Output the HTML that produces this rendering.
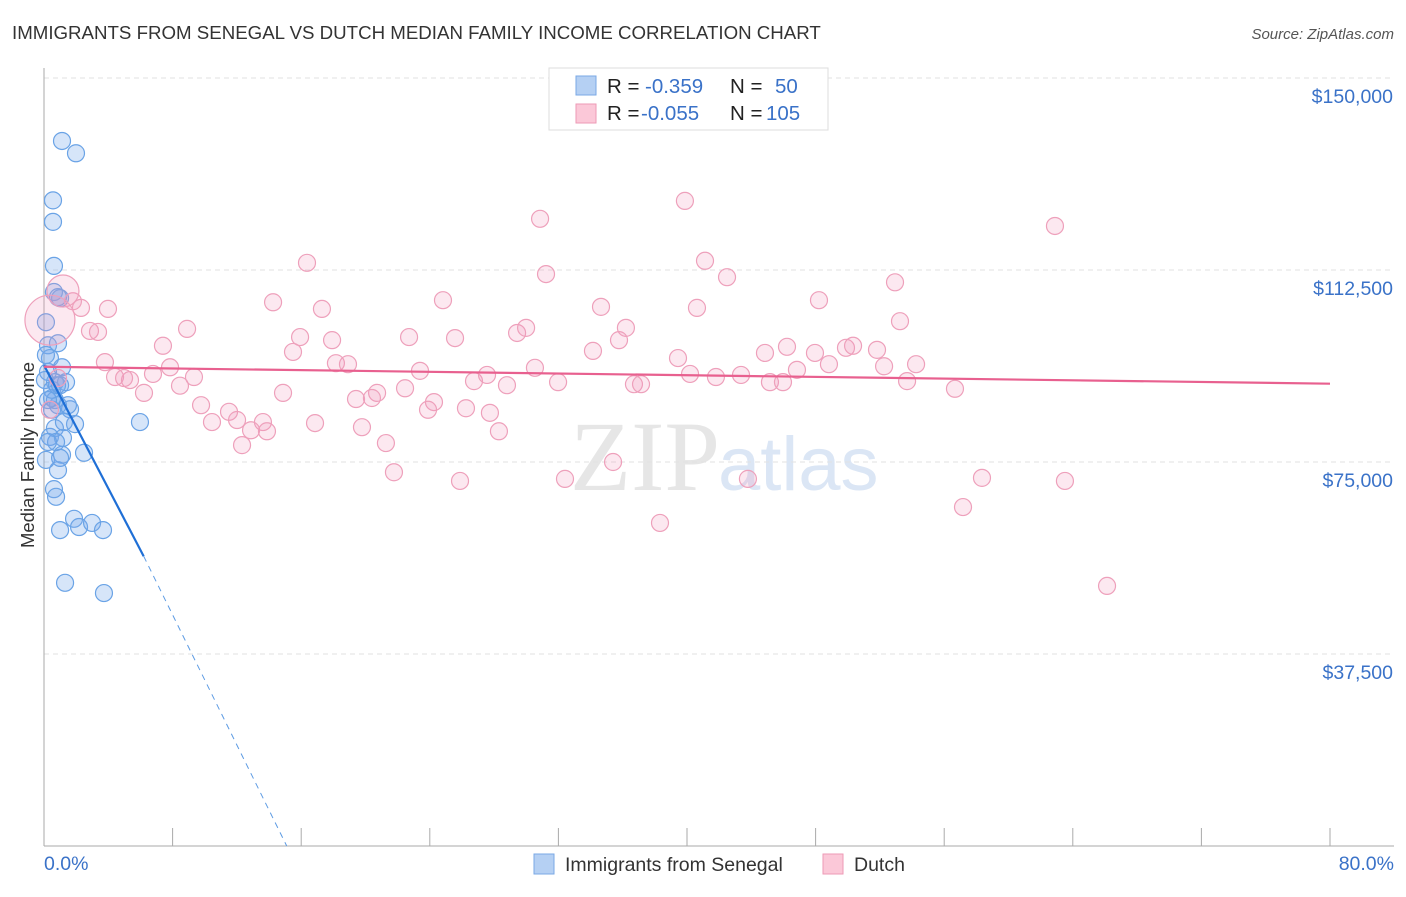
<!DOCTYPE html>
<html><head><meta charset="utf-8"><style>
body{margin:0;background:#fff;font-family:"Liberation Sans",sans-serif;}
</style></head><body>
<svg width="1406" height="892" id="chart" xmlns="http://www.w3.org/2000/svg" font-family="Liberation Sans, sans-serif">
<text x="12" y="39" font-size="18.7" fill="#333">IMMIGRANTS FROM SENEGAL VS DUTCH MEDIAN FAMILY INCOME CORRELATION CHART</text>
<text x="1394" y="39" font-size="15" fill="#555" font-style="italic" text-anchor="end">Source: ZipAtlas.com</text>
<text x="720" y="490" font-size="100" fill="#e6e6e6" text-anchor="end" font-family="Liberation Serif, serif">ZIP</text>
<text x="718" y="490" font-size="76" fill="#dbe6f5">atlas</text>
<g id="grid"></g><g id="axes"></g><g id="pts"></g><g id="trends"></g>
<text transform="translate(34,455) rotate(-90)" font-size="18.5" fill="#333" text-anchor="middle">Median Family Income</text>
<text x="44" y="870" font-size="19.5" fill="#3a72c8">0.0%</text>
<text x="1394" y="870" font-size="19.5" fill="#3a72c8" text-anchor="end">80.0%</text>
<g>
<rect x="549" y="68" width="279" height="62" fill="#fff" stroke="#ddd"/>
<rect x="576" y="76" width="20" height="19" fill="#b5d0f3" stroke="#7aa8e6"/>
<rect x="576" y="104" width="20" height="19" fill="#fbc8d8" stroke="#ee9ab6"/>
<text x="607" y="93" font-size="20.5" fill="#222">R = <tspan x="645" fill="#3a72c8">-0.359</tspan><tspan x="730">N =</tspan><tspan x="775" fill="#3a72c8">50</tspan></text>
<text x="607" y="120" font-size="20.5" fill="#222">R = <tspan x="641" fill="#3a72c8">-0.055</tspan><tspan x="730">N =</tspan><tspan x="766" fill="#3a72c8">105</tspan></text>
</g>
<g>
<rect x="534" y="854" width="20" height="20" fill="#b5d0f3" stroke="#7aa8e6"/>
<text x="565" y="871" font-size="19.5" fill="#333">Immigrants from Senegal</text>
<rect x="823" y="854" width="20" height="20" fill="#fbc8d8" stroke="#ee9ab6"/>
<text x="854" y="871" font-size="19.5" fill="#333">Dutch</text>
</g>
</svg>
<script>
const yTicks=[37500,75000,112500,150000];
const yTickLabels=["$37,500","$75,000","$112,500","$150,000"];
const xTicks=[0,8,16,24,32,40,48,56,64,72,80];
const blueX=[1.12,1.99,0.56,0.56,0.62,0.62,1.0,0.87,0.12,0.25,0.87,0.37,1.12,0.25,0.68,1.37,0.5,0.87,1.62,0.68,0.37,1.18,1.93,2.49,0.75,1.12,0.87,0.62,0.75,1.0,1.87,2.18,2.99,3.67,1.31,3.73,5.97,0.12,0.68,0.06,0.5,1.0,0.25,0.81,1.49,0.5,0.12,1.0,1.24,0.25];
const blueY=[137.7,135.3,126.1,121.9,113.3,108.2,107.0,107.2,102.3,97.8,98.2,95.3,93.5,92.6,90.6,90.6,87.5,86.1,85.3,81.6,79.9,79.7,82.4,76.8,78.9,76.4,73.4,69.7,68.2,61.7,63.9,62.3,63.1,61.7,51.4,49.4,82.8,75.4,87.1,91.0,89.1,75.8,78.9,90.0,86.1,85.2,95.9,90.0,82.8,87.1];
const pinkX=[39.87,62.89,30.86,16.36,41.12,31.23,42.49,52.94,14.25,17.29,24.82,34.65,40.62,48.21,53.25,8.9,15.93,17.92,22.71,25.57,29.43,29.99,36.2,35.77,15.49,34.15,39.44,44.85,46.22,47.96,49.89,50.33,51.82,3.79,7.4,18.16,18.91,30.54,23.39,7.84,6.78,4.42,5.35,4.98,9.33,8.46,6.22,14.87,22.46,26.75,27.56,28.8,31.98,36.7,37.14,40.19,41.8,43.36,45.16,45.97,46.84,48.83,52.26,53.69,54.25,56.67,20.72,19.41,20.4,9.77,13.62,11.51,10.45,12.01,12.88,13.87,16.86,19.78,24.26,23.89,26.25,27.74,28.3,21.27,12.32,21.77,25.88,32.41,35.4,43.79,58.35,63.51,57.17,38.32,66.13,2.86,3.36,2.3,3.98,1.8,0.87,0.37,1.18,0.37];
const pinkY=[126.0,121.1,122.5,113.9,114.3,111.7,111.1,110.1,106.2,104.9,106.6,105.3,105.1,106.6,102.5,101.0,99.4,98.8,99.4,99.2,100.2,101.2,101.2,98.8,96.5,96.7,95.3,96.3,97.5,96.3,97.3,97.7,96.9,94.5,97.7,94.3,94.1,93.4,92.8,93.5,92.2,91.6,91.0,91.4,91.6,89.9,88.5,88.5,89.4,90.8,92.0,90.0,90.6,90.2,90.2,92.2,91.6,92.0,90.6,90.6,93.0,94.1,93.7,90.8,94.1,89.3,88.5,87.3,87.5,86.1,82.8,84.8,82.8,83.2,81.2,81.0,82.6,81.8,86.7,85.2,85.5,84.6,81.0,78.7,78.3,73.0,71.3,71.7,75.0,71.7,71.9,71.3,66.2,63.1,50.8,100.6,100.4,105.1,104.9,106.4,91.4,85.2,108.4,102.7];
const pinkSize=[];for(let i=0;i<pinkX.length;i++)pinkSize.push(1);pinkSize[pinkX.length-2]=2;pinkSize[pinkX.length-1]=3;
const blueTrend=[[0,93.9],[6.2,56.6],[15.1,0]];
const pinkTrend=[[0,93.6],[80,90.3]];
const X=v=>44+v*16.075, Y=k=>846-k*1000/37500*192;
const NS="http://www.w3.org/2000/svg";
function mk(p,t,a){const e=document.createElementNS(NS,t);for(const k in a)e.setAttribute(k,a[k]);p.appendChild(e);return e;}
const grid=document.getElementById('grid'),axes=document.getElementById('axes'),pts=document.getElementById('pts'),tr=document.getElementById('trends');
yTicks.forEach((t,i)=>{const y=Y(t/1000);
const l=mk(grid,'line',{x1:44,x2:1394,y1:y,y2:y,stroke:'#e2e2e2','stroke-dasharray':'5,4'});


const tx=mk(grid,'text',{x:1393,y:y+25,'font-size':19.5,fill:'#3a72c8','text-anchor':'end'});tx.textContent=yTickLabels[i];

});
const ax=mk(axes,'line',{x1:44,x2:44,y1:68,y2:846,stroke:'#aaa'});


const bx=mk(axes,'line',{x1:44,x2:1394,y1:846,y2:846,stroke:'#aaa'});


xTicks.forEach(t=>{const l=mk(axes,'line',{x1:X(t),x2:X(t),y1:828,y2:846,stroke:'#aaa'});

});
blueX.forEach((v,i)=>{const c=mk(pts,'circle',{cx:X(v),cy:Y(blueY[i]),r:8.5,fill:'rgba(120,170,235,0.3)',stroke:'#6aa3e6','stroke-width':1.2});

});
pinkX.forEach((v,i)=>{const r=[0,8.5,16,25][pinkSize[i]];const c=mk(pts,'circle',{cx:X(v),cy:Y(pinkY[i]),r:r,fill:'rgba(242,150,185,0.22)',stroke:'#eea0bb','stroke-width':1.2});

});
const b1=mk(tr,'line',{x1:X(blueTrend[0][0]),y1:Y(blueTrend[0][1]),x2:X(blueTrend[1][0]),y2:Y(blueTrend[1][1]),stroke:'#1f6fd6','stroke-width':2.2});


const b2=mk(tr,'line',{x1:X(blueTrend[1][0]),y1:Y(blueTrend[1][1]),x2:X(blueTrend[2][0]),y2:Y(blueTrend[2][1]),stroke:'#5d9be3','stroke-width':1,'stroke-dasharray':'6,5'});


const p1=mk(tr,'line',{x1:X(pinkTrend[0][0]),y1:Y(pinkTrend[0][1]),x2:X(pinkTrend[1][0]),y2:Y(pinkTrend[1][1]),stroke:'#e8608f','stroke-width':2.2});


</script>
</body></html>
